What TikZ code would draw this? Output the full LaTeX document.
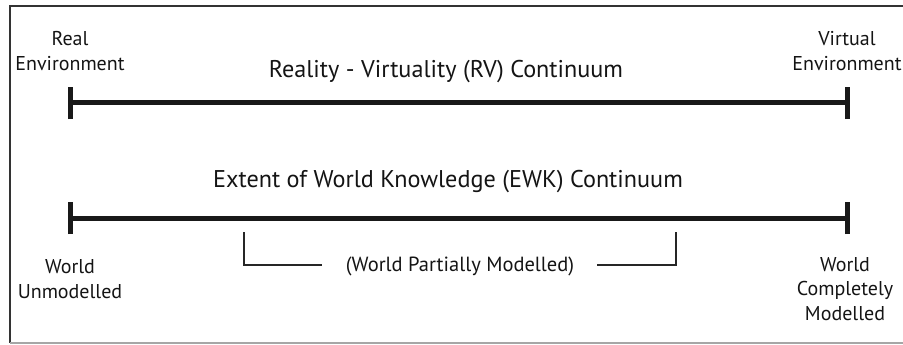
\documentclass[tikz,border=0pt]{standalone}
\usepackage{fontspec}
\setmainfont{PT Sans}
\begin{document}
\begin{tikzpicture}[x=1pt,y=-1pt,
  lbl/.style={inner sep=0pt, align=center, font=\fontsize{20}{24.5}\selectfont, text=black!92},
  ttl/.style={inner sep=0pt, font=\fontsize{24.2}{28}\selectfont, text=black!92},
  bar/.style={line width=5pt, black!90},
  brk/.style={line width=2pt, black!85}]
\useasboundingbox (0,0) rectangle (903,345);
% frame
\draw[line width=2pt, black!80] (903,6) -- (10,6) -- (10,343);
\draw[line width=1.5pt, black!35] (10,343) -- (903,343);
% RV continuum
\coordinate (rvL) at (70,103);
\coordinate (rvR) at (847,103);
\draw[bar] (rvL) -- (rvR);
\draw[bar] ([yshift=-16]rvL) -- ([yshift=16]rvL);
\draw[bar] ([yshift=-16]rvR) -- ([yshift=16]rvR);
\node[ttl] (rvT) at (446,72) {Reality - Virtuality (RV) Continuum};
\node[lbl] (real) at (70,51) {Real\\Environment};
\node[lbl] (virt) at (847,51) {Virtual\\Environment};
% EWK continuum
\coordinate (ewL) at (70,218);
\coordinate (ewR) at (847,218);
\draw[bar] (ewL) -- (ewR);
\draw[bar] ([yshift=-16]ewL) -- ([yshift=16]ewL);
\draw[bar] ([yshift=-16]ewR) -- ([yshift=16]ewR);
\node[ttl] (ewT) at (448,182) {Extent of World Knowledge (EWK) Continuum};
\node[lbl] (unm) at (70,279) {World\\Unmodelled};
\node[lbl] (com) at (845,289) {World\\Completely\\Modelled};
% partial bracket
\node[lbl,font=\fontsize{20.5}{24.5}\selectfont] (part) at (460,266) {(World Partially Modelled)};
\coordinate (bL) at (244,232);
\coordinate (bR) at (676,232);
\coordinate (bLe) at (322,265);
\coordinate (bRe) at (597,265);
\draw[brk] (bL) |- (bLe);
\draw[brk] (bR) |- (bRe);
\end{tikzpicture}
\end{document}
